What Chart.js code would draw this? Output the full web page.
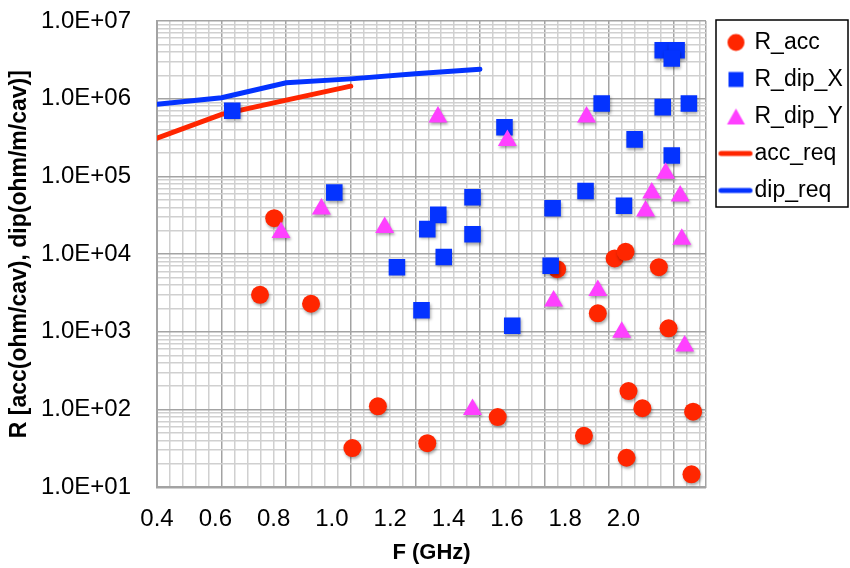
<!DOCTYPE html>
<html>
<head>
<meta charset="UTF-8">
<title>R vs F</title>
<script src="https://cdn.jsdelivr.net/npm/chart.js"></script>
<style>
  body { margin: 0; background: #fff; }
  #wrap { width: 850px; height: 568px; }
</style>
</head>
<body>
<div id="wrap"><canvas id="rChart" width="850" height="568"></canvas></div>
<script>
// F in GHz, R in ohm/cav (acc) or ohm/m/cav (dip)
const accF = [0.763, 0.719, 0.877, 1.084, 1.005, 1.237, 1.639, 1.817, 1.851, 1.954,
              1.765, 1.984, 1.860, 1.903, 2.060, 1.455, 1.722, 1.854, 2.055];
const accR = [2.9e4, 3.0e3, 2.3e3, 110, 32, 37, 6.4e3, 8.8e3, 1.07e4, 6.8e3,
              1.73e3, 1.11e3, 173, 104, 94, 80, 46, 24, 14.7];

const dipXF = [0.633, 0.949, 1.271, 1.237, 1.377, 1.377, 1.288, 1.143, 1.219, 1.476, 1.500, 1.619,
               1.625, 1.727, 1.777, 1.846, 1.879, 1.966, 2.047, 1.994, 1.966, 2.009, 1.994];
const dipXR = [7.0e5, 6.2e4, 3.2e4, 2.1e4, 5.4e4, 1.8e4, 9.2e3, 6.8e3, 1.9e3, 4.3e5, 1.2e3, 7.1e3,
               3.9e4, 6.5e4, 8.7e5, 4.2e4, 3.0e5, 7.8e5, 8.7e5, 1.86e5, 4.2e6, 4.2e6, 3.3e6];

const dipYF = [0.784, 0.909, 1.105, 1.270, 1.377, 1.485, 1.628, 1.730,
               1.765, 1.839, 1.913, 1.932, 1.975, 2.020, 2.025, 2.034];
const dipYR = [1.9e4, 3.8e4, 2.2e4, 5.8e5, 100, 2.9e5, 2.5e3, 5.8e5,
               3.4e3, 990, 3.6e4, 6.1e4, 1.1e5, 5.6e4, 1.55e4, 660];

const accReqF = [0.4, 0.6, 0.8, 1.0];
const accReqR = [3.1e5, 6.3e5, 9.6e5, 1.45e6];

const dipReqF = [0.4, 0.6, 0.8, 1.0, 1.2, 1.4];
const dipReqR = [8.5e5, 1.03e6, 1.6e6, 1.8e6, 2.1e6, 2.4e6];

const xTickLabels = ['0.4', '0.6', '0.8', '1.0', '1.2', '1.4', '1.6', '1.8', '2.0'];
const yDecades = [1e1, 1e2, 1e3, 1e4, 1e5, 1e6, 1e7];

const RED = '#ff2600';
const BLUE = '#0433ff';
const PINK = '#ff40ff';
const GRID_MAJOR = '#a3a3a3';
const GRID_MINOR = '#d0d0d0';

Chart.defaults.font.family = "'Liberation Sans', Arial, sans-serif";
Chart.defaults.color = '#000';

function pts(xs, ys) {
    return xs.map((x, i) => ({ x: x, y: ys[i] }));
}

function isDecade(v) {
    const l = Math.log10(v);
    return Math.abs(l - Math.round(l)) < 1e-6;
}

// small marker pictures for the legend (lines need to be longer than the box)
function legendIcon(kind, color) {
    const c = document.createElement('canvas');
    c.width = 44;
    c.height = 20;
    const g = c.getContext('2d');
    g.fillStyle = color;
    g.strokeStyle = color;
    const cx = 26.5, cy = 10;
    if (kind === 'circle') {
        g.beginPath();
        g.arc(cx, cy, 8.5, 0, Math.PI * 2);
        g.fill();
    } else if (kind === 'square') {
        g.fillRect(cx - 7.5, cy - 7.5, 15, 15);
    } else if (kind === 'triangle') {
        g.beginPath();
        g.moveTo(cx, cy - 8);
        g.lineTo(cx + 9, cy + 8);
        g.lineTo(cx - 9, cy + 8);
        g.closePath();
        g.fill();
    } else {
        g.lineWidth = 5;
        g.lineCap = 'round';
        g.beginPath();
        g.moveTo(11.5, cy);
        g.lineTo(40.5, cy);
        g.stroke();
    }
    return c;
}

const legendIcons = [
    legendIcon('circle', RED),
    legendIcon('square', BLUE),
    legendIcon('triangle', PINK),
    legendIcon('line', RED),
    legendIcon('line', BLUE)
];

// soft drop shadow under the markers
const markerShadow = {
    id: 'markerShadow',
    beforeDatasetDraw(chart, args) {
        if (chart.data.datasets[args.index].showLine) return;
        const c = chart.ctx;
        c.save();
        c.shadowColor = 'rgba(0,0,0,0.35)';
        c.shadowBlur = 3;
        c.shadowOffsetX = 1;
        c.shadowOffsetY = 2;
    },
    afterDatasetDraw(chart, args) {
        if (chart.data.datasets[args.index].showLine) return;
        chart.ctx.restore();
    }
};

// black frame round the legend
const legendFrame = {
    id: 'legendFrame',
    afterDraw(chart) {
        const lg = chart.legend;
        const hb = lg.legendHitBoxes;
        if (!hb || !hb.length) return;
        const last = hb[hb.length - 1];
        const top = hb[0].top - 11;
        const left = lg.left + 10;
        const c = chart.ctx;
        c.save();
        c.strokeStyle = '#000';
        c.lineWidth = 1.5;
        c.strokeRect(left, top, chart.width - 2 - left, last.top + last.height + 5 - top);
        c.restore();
    }
};

const ctx = document.getElementById('rChart').getContext('2d');
new Chart(ctx, {
    type: 'scatter',
    data: {
        datasets: [
            {
                label: 'R_acc', data: pts(accF, accR), order: 3,
                pointStyle: 'circle', pointRadius: 9, borderWidth: 0,
                backgroundColor: RED, borderColor: RED
            },
            {
                label: 'R_dip_X', data: pts(dipXF, dipXR), order: 2,
                pointStyle: 'rect', pointRadius: 11.7, borderWidth: 0,
                backgroundColor: BLUE, borderColor: BLUE
            },
            {
                label: 'R_dip_Y', data: pts(dipYF, dipYR), order: 1,
                pointStyle: 'triangle', pointRadius: 11, borderWidth: 0,
                backgroundColor: PINK, borderColor: PINK
            },
            {
                label: 'acc_req', data: pts(accReqF, accReqR), order: 4,
                showLine: true, borderColor: RED, backgroundColor: RED, borderWidth: 5,
                borderCapStyle: 'round', pointRadius: 0
            },
            {
                label: 'dip_req', data: pts(dipReqF, dipReqR), order: 5,
                showLine: true, borderColor: BLUE, backgroundColor: BLUE, borderWidth: 5,
                borderCapStyle: 'round', pointRadius: 0
            }
        ]
    },
    options: {
        responsive: false,
        animation: false,
        layout: { padding: { top: 17, right: 0, bottom: 0, left: 0 } },
        scales: {
            x: {
                type: 'linear', position: 'bottom', min: 0.4, max: 2.1, weight: 0,
                afterBuildTicks: s => {
                    const t = [];
                    for (let k = 40; k <= 208; k += 4) t.push({ value: k / 100 });
                    t.push({ value: 2.1 });
                    s.ticks = t;
                },
                ticks: { display: false, autoSkip: false },
                grid: {
                    drawTicks: false, lineWidth: 1.5,
                    color: c => (Math.round(c.tick.value * 100) % 20 === 0 || c.tick.value >= 2.1) ? GRID_MAJOR : GRID_MINOR
                },
                border: { color: GRID_MAJOR, width: 2 },
                afterFit: s => { s.height = 0; }
            },
            xl: {
                type: 'linear', position: 'bottom', min: 0.4, max: 2.283, weight: 1,
                afterBuildTicks: s => { s.ticks = xTickLabels.map(l => ({ value: parseFloat(l) })); },
                ticks: { autoSkip: false, maxRotation: 0, padding: 18, font: { size: 24 }, callback: v => v.toFixed(1) },
                grid: { display: false, drawTicks: false },
                border: { display: false },
                title: { display: true, text: 'F (GHz)', font: { size: 22, weight: 'bold' }, padding: { top: 0, bottom: 2 } },
                afterFit: s => { s.height = 80.7; }
            },
            y: {
                type: 'logarithmic', min: 10, max: 1e7,
                afterBuildTicks: s => {
                    const t = [];
                    yDecades.forEach((d, i) => {
                        if (i === yDecades.length - 1) { t.push({ value: d }); return; }
                        for (let m = 1; m <= 9; m++) t.push({ value: m * d });
                    });
                    s.ticks = t;
                },
                ticks: {
                    autoSkip: false, padding: 26, font: { size: 24 },
                    callback: v => isDecade(v) ? '1.0E+' + String(Math.round(Math.log10(v))).padStart(2, '0') : ''
                },
                grid: { drawTicks: false, lineWidth: 1.5, color: c => isDecade(c.tick.value) ? GRID_MAJOR : GRID_MINOR },
                border: { color: GRID_MAJOR, width: 2 },
                title: {
                    display: true, text: 'R [acc(ohm/cav), dip(ohm/m/cav)]',
                    font: { size: 23, weight: 'bold' }, padding: { top: 6, bottom: 0 }
                },
                afterFit: s => { s.width = 157; s.paddingTop = 21; }
            }
        },
        plugins: {
            legend: {
                position: 'right', align: 'start', maxWidth: 144,
                labels: {
                    usePointStyle: true, boxHeight: 13, padding: 14,
                    color: '#000', font: { size: 23 },
                    sort: (a, b) => a.datasetIndex - b.datasetIndex,
                    generateLabels: chart => Chart.defaults.plugins.legend.labels.generateLabels(chart)
                        .map(item => Object.assign(item, { pointStyle: legendIcons[item.datasetIndex] }))
                }
            },
            tooltip: { enabled: false }
        }
    },
    plugins: [markerShadow, legendFrame]
});
</script>
</body>
</html>
